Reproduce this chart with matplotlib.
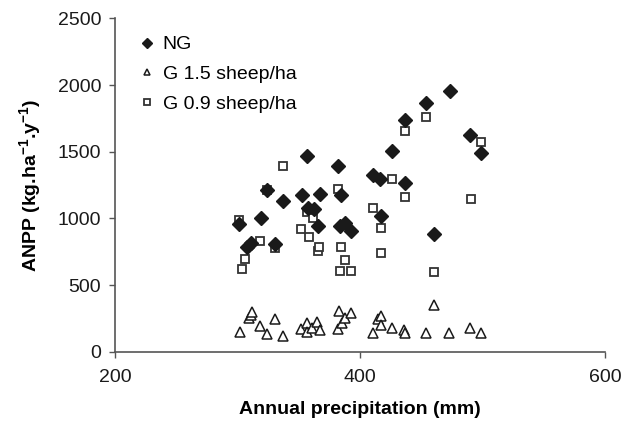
import matplotlib.pyplot as plt
import numpy as np

plt.rcParams['font.family'] = ['Liberation Sans', 'DejaVu Sans']
plt.rcParams['mathtext.fontset'] = 'custom'
plt.rcParams['mathtext.rm'] = 'Liberation Sans'
plt.rcParams['mathtext.bf'] = 'Liberation Sans:bold'

# ungrazed plots
ng_x = [301, 308, 311, 319, 331, 324, 337, 353, 357, 357.5, 362.5, 367, 365.5,
        382, 384.5, 384, 388, 393, 411, 416, 417, 426, 437, 437, 454, 460,
        473.5, 490, 499]
ng_y = [960, 790, 820, 1007, 810, 1215, 1132, 1175, 1470, 1075, 1070, 1187, 945,
        1397, 1177, 947, 970, 907, 1327, 1295, 1022, 1507, 1265, 1735, 1865, 885,
        1957, 1622, 1490]

# grazed, 1.5 sheep/ha
g15_x = [302, 309, 311, 312, 318, 324, 331, 337, 352, 357, 357, 361, 365, 367,
         382, 383, 385, 388, 393, 411, 415, 417, 417, 426, 436, 437, 453.5, 460,
         473, 490, 499]
g15_y = [152, 253, 278, 302, 195, 135, 245, 122, 172, 215, 148, 182, 227, 165,
         170, 310, 215, 253, 290, 145, 245, 270, 202, 178, 165, 140, 145, 352,
         145, 178, 140]

# grazed, 0.9 sheep/ha
g09_x = [301, 304, 306, 318, 324, 331, 337, 352, 356.5, 358, 362, 365.5, 366.5,
         382, 384.5, 388, 384, 393, 411, 417, 417, 426, 437, 437, 454, 460,
         490.5, 499]
g09_y = [990, 625, 700, 832, 1215, 778, 1395, 920, 1050, 865, 1005, 760, 785,
         1222, 790, 690, 610, 610, 1077, 927, 740, 1295, 1652, 1160, 1757, 597,
         1147, 1572]

fig = plt.figure(figsize=(6.25, 4.21), dpi=100)
ax = fig.add_axes([0.184, 0.164, 0.784, 0.7925])

ax.plot(g09_x, g09_y, 's', ls='none', ms=6.2, mfc='white', mec='#333333', mew=1.3,
        label='G 0.9 sheep/ha', zorder=2)
ax.plot(ng_x, ng_y, 'D', ls='none', ms=6.8, color='#1a1a1a', label='NG', zorder=3)
ax.plot(g15_x, g15_y, '^', ls='none', ms=6.5, mfc='white', mec='#1a1a1a', mew=1.1,
        label='G 1.5 sheep/ha', zorder=4)

ax.set_xlim(200, 600)
ax.set_ylim(0, 2500)
ax.set_xticks([200, 400, 600])
ax.set_yticks(np.arange(0, 2501, 500))

for side in ['top', 'right']:
    ax.spines[side].set_visible(False)
for side in ['left', 'bottom']:
    ax.spines[side].set_color('#555555')
    ax.spines[side].set_linewidth(1.2)
ax.tick_params(direction='out', length=4, width=1, color='#555555',
               labelsize=14, colors='#1a1a1a')
ax.tick_params(axis='y', pad=6)
ax.tick_params(axis='x', pad=8)

ax.set_xlabel('Annual precipitation (mm)', fontsize=14, fontweight='bold',
              labelpad=11)
ax.set_ylabel('ANPP (kg.ha$^{\\mathbf{-1}}$.y$^{\\mathbf{-1}}$)',
              fontsize=14, fontweight='bold', labelpad=10)

handles, labels = ax.get_legend_handles_labels()
order = [1, 2, 0]
leg = ax.legend([handles[i] for i in order], [labels[i] for i in order],
                loc='upper left', bbox_to_anchor=(0.014, 1.0), frameon=False,
                fontsize=14, handletextpad=0.4, labelspacing=0.62,
                markerscale=0.75, handlelength=0.8)

fig.savefig('out.png', dpi=100)
